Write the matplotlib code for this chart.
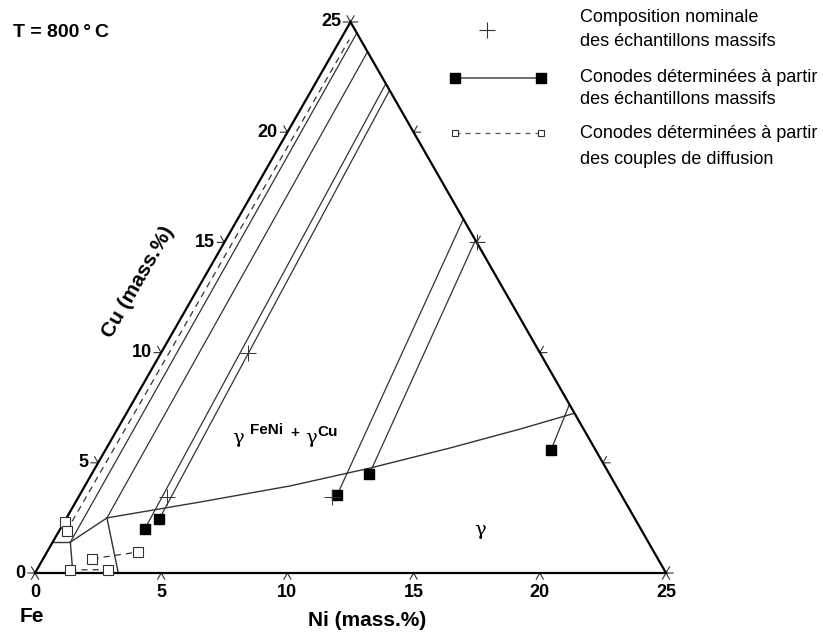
import numpy as np
import matplotlib.pyplot as plt

plt.rcParams['font.family'] = ['Liberation Sans', 'DejaVu Sans']

S3 = np.sqrt(3) / 2


def tern(ni, cu):
    # Ni / Cu mass.% -> cartesian position in the triangle
    ni = np.asarray(ni, float)
    cu = np.asarray(cu, float)
    return ni + cu / 2, cu * S3


# axis ticks
tick_vals = [0, 5, 10, 15, 20, 25]
tick_labels = ['0', '5', '10', '15', '20', '25']

# gamma / (gammaFeNi + gammaCu) boundary
bound_ni = [1.6, 4.93, 8.13, 10.89, 13.6, 15.95, 17.75]
bound_cu = [2.5, 3.22, 3.95, 4.76, 5.67, 6.53, 7.25]

# small phase fields near the Fe corner
corner_ni = [[0.0, 0.7], [0.7, 1.5], [0.7, 1.6], [1.6, 3.3]]
corner_cu = [[1.4, 1.4], [1.4, 0.0], [1.4, 2.5], [2.5, 0.0]]

# limits of the two phase field (solid thin lines running to the Cu side)
lim_ni = [[0.7, 0.5], [1.6, 1.35]]
lim_cu = [[1.4, 24.5], [2.5, 23.65]]

# tie lines from bulk samples (first point = filled square)
bulk_ni = [[3.35, 2.8], [3.7, 3.1], [10.2, 8.95], [11.0, 9.9], [17.65, 17.35]]
bulk_cu = [[2.0, 22.15], [2.45, 21.85], [3.55, 16.0], [4.5, 15.1], [5.6, 7.65]]

# tie lines from diffusion couples
diff_ni = [[0.3, 0.35], [1.95, 3.6], [1.32, 2.8]]
diff_cu = [[1.9, 24.2], [0.65, 0.95], [0.14, 0.15]]
diff_sq_ni = [0.05, 0.3, 1.95, 3.6, 1.32, 2.8]
diff_sq_cu = [2.3, 1.9, 0.65, 0.95, 0.14, 0.15]

# nominal compositions of bulk samples
nom_ni = [3.5, 3.45, 10.05, 10.0]
nom_cu = [3.45, 10.0, 3.45, 15.0]

fig = plt.figure(figsize=(8.23, 6.35), dpi=100)
ax = fig.add_axes([0, 0, 1, 1])
ax.set_xlim(-1.3867, 31.22)
ax.set_ylim(-2.436, 22.515)
ax.axis('off')

line_c = '#333333'

# triangle
tx, ty = tern([0, 25, 0, 0], [0, 0, 25, 0])
ax.plot(tx, ty, color='black', lw=1.6, solid_joinstyle='miter', zorder=3)

# ticks
L = 0.28
for v, lab in zip(tick_vals, tick_labels):
    x, y = tern(v, 0)
    ax.plot([x - L * 0.5, x, x + L * 0.5], [y - L * S3, y, y - L * S3],
            color=line_c, lw=0.8)
    ax.text(x, y - 0.75, lab, ha='center', va='center',
            fontsize=13, fontweight='bold')
    x, y = tern(0, v)
    ax.plot([x - L, x, x - L * 0.5], [y, y, y + L * S3], color=line_c, lw=0.8)
    ax.text(x - 0.38, y, lab, ha='right', va='center',
            fontsize=13, fontweight='bold')
    x, y = tern(25 - v, v)
    ax.plot([x + L, x, x + L * 0.5], [y, y, y + L * S3], color=line_c, lw=0.8)

# phase boundaries
bx, by = tern(bound_ni, bound_cu)
ax.plot(bx, by, color=line_c, lw=1.0)
for ni, cu in zip(corner_ni, corner_cu):
    ax.plot(*tern(ni, cu), color=line_c, lw=1.0)
for ni, cu in zip(lim_ni, lim_cu):
    ax.plot(*tern(ni, cu), color=line_c, lw=0.9)

# tie lines
for ni, cu in zip(bulk_ni, bulk_cu):
    ax.plot(*tern(ni, cu), color=line_c, lw=0.9)
    x0, y0 = tern(ni[0], cu[0])
    ax.plot(x0, y0, 's', color='black', ms=7, zorder=5)
for ni, cu in zip(diff_ni, diff_cu):
    ax.plot(*tern(ni, cu), color=line_c, lw=0.9, linestyle=(0, (5, 4)))
ax.plot(*tern(diff_sq_ni, diff_sq_cu), 's', ls='none', mfc='white',
        mec=line_c, mew=0.8, ms=7, zorder=5)

# nominal compositions
ax.plot(*tern(nom_ni, nom_cu), '+', ls='none', color=line_c, ms=12,
        mew=0.7, zorder=6)

# labels
ax.text(13.15, -1.85, 'Ni (mass.%)', ha='center', va='center',
        fontsize=15, fontweight='bold')
ax.text(4.08, 11.43, 'Cu (mass.%)', ha='center', va='center', rotation=60,
        rotation_mode='anchor', fontsize=15, fontweight='bold')
ax.text(-0.12, -1.69, 'Fe', ha='center', va='center', fontsize=15,
        fontweight='bold')
ax.text(-0.87, 21.22, 'T = 800\u2009°\u2009C', ha='left', va='center',
        fontsize=14, fontweight='bold', family=['Liberation Sans', 'DejaVu Sans'])

ax.text(8.05, 5.3, '\u03b3', ha='center', va='center', fontsize=14,
        family='DejaVu Serif')
ax.text(8.52, 5.6, 'FeNi', ha='left', va='center', fontsize=11,
        fontweight='bold')
ax.text(10.3, 5.5, '+', ha='center', va='center', fontsize=11,
        fontweight='bold')
ax.text(10.95, 5.3, '\u03b3', ha='center', va='center', fontsize=14,
        family='DejaVu Serif')
ax.text(11.18, 5.56, 'Cu', ha='left', va='center', fontsize=11,
        fontweight='bold')
ax.text(17.63, 1.69, '\u03b3', ha='center', va='center', fontsize=14,
        family='DejaVu Serif')

# legend
tr = ax.transAxes
W, H = 823.0, 635.0
ax.plot([487 / W], [1 - 30 / H], '+', color=line_c, ms=11, mew=0.8,
        transform=tr)
ax.plot([455 / W, 541 / W], [1 - 78 / H] * 2, color='#555555', lw=1.2,
        marker='s', mfc='black', mec='black', ms=6.5, transform=tr)
ax.plot([455 / W, 541 / W], [1 - 133 / H] * 2, color='#555555', lw=0.9,
        ls=(0, (4, 4)), marker='s', mfc='white', mec=line_c, mew=0.8,
        ms=5, transform=tr)
leg_txt = [('Composition nominale', 18), ('des \u00e9chantillons massifs', 41),
           ('Conodes d\u00e9termin\u00e9es \u00e0 partir', 78),
           ('des \u00e9chantillons massifs', 100),
           ('Conodes d\u00e9termin\u00e9es \u00e0 partir', 133),
           ('des couples de diffusion', 160)]
for s, py in leg_txt:
    ax.text(580 / W, 1 - py / H, s, transform=tr, ha='left', va='center',
            fontsize=13)

fig.savefig('out.png', dpi=100)
